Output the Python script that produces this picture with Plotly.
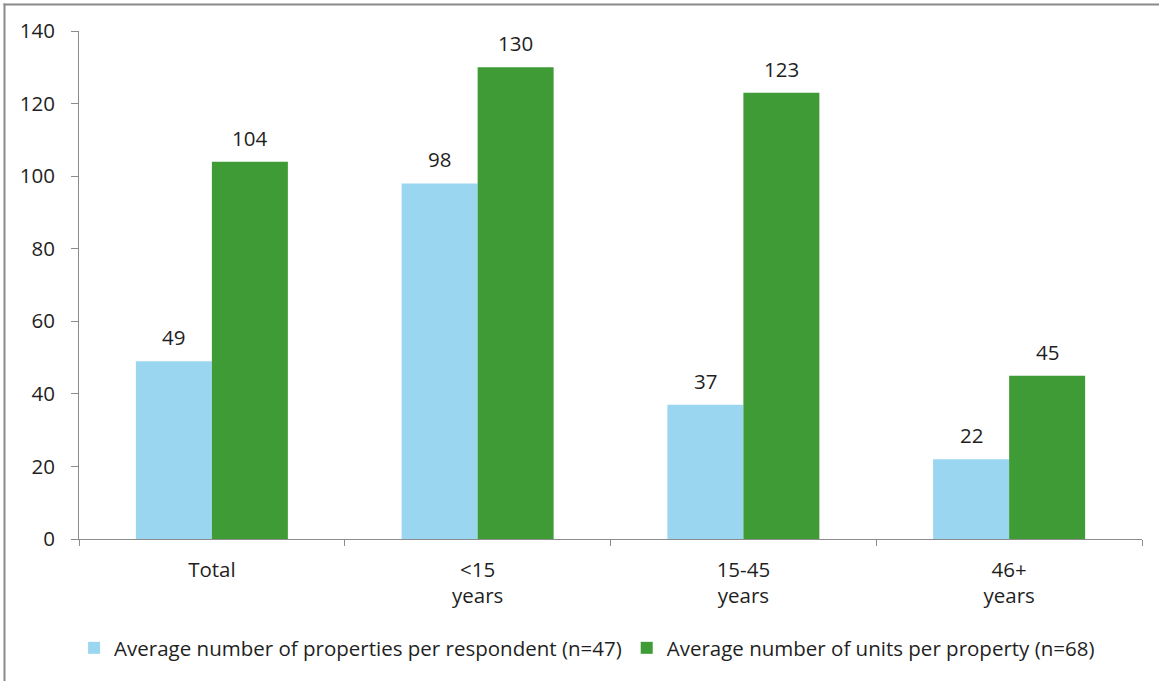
import plotly.graph_objects as go

# Age-of-portfolio groups on the x axis
categories = ["Total", "<15<br>years", "15-45<br>years", "46+<br>years"]

# Series values
properties_per_respondent = [49, 98, 37, 22]
units_per_property = [104, 130, 123, 45]

series_names = [
    "Average number of properties per respondent (n=47)",
    "Average number of units per property (n=68)",
]

y_ticks = [0, 20, 40, 60, 80, 100, 120, 140]

LIGHT_BLUE = "#9ad6f0"
GREEN = "#3f9b36"
TEXT = "#1f1f1f"
AXIS = "#8c8c8c"
FONT = "Open Sans, Noto Sans, sans-serif"
FS = 20.5

fig = go.Figure()
fig.add_trace(go.Bar(
    x=categories, y=properties_per_respondent, name=series_names[0],
    marker=dict(color=LIGHT_BLUE, line=dict(width=0)),
))
fig.add_trace(go.Bar(
    x=categories, y=units_per_property, name=series_names[1],
    marker=dict(color=GREEN, line=dict(width=0)),
))

# Value labels above each bar
BAR_HALF = 0.1429
for i, (a, b) in enumerate(zip(properties_per_respondent, units_per_property)):
    for dx, v in ((-BAR_HALF, a), (BAR_HALF, b)):
        fig.add_annotation(
            x=i + dx, y=v, xref="x", yref="y", text=str(v),
            showarrow=False, yanchor="bottom", yshift=8,
            font=dict(family=FONT, size=FS, color=TEXT),
        )

# Frame lines along the top and left edges of the page
L, T, PW, PH = 79, 539, 1063, 508
def px(p):
    return (p - L) / PW
def py(q):
    return (T - q) / PH

fig.add_shape(type="line", xref="paper", yref="paper",
              x0=px(3.5), x1=px(1159), y0=py(4.5), y1=py(4.5),
              line=dict(color="#8a8a8a", width=2))
fig.add_shape(type="line", xref="paper", yref="paper",
              x0=px(4.5), x1=px(4.5), y0=py(3.5), y1=py(681),
              line=dict(color="#8a8a8a", width=2))

fig.update_layout(
    width=1159, height=681,
    margin=dict(l=79, r=17, t=31, b=142),
    paper_bgcolor="white", plot_bgcolor="white",
    barmode="group", bargap=0.428, bargroupgap=0,
    font=dict(family=FONT, size=FS, color=TEXT),
    showlegend=True,
    legend=dict(
        orientation="h", x=0.478, xanchor="center",
        y=py(648), yanchor="middle",
        font=dict(family=FONT, size=FS, color=TEXT),
        itemwidth=30, tracegroupgap=0,
    ),
    xaxis=dict(
        showline=True, linecolor=AXIS, linewidth=1,
        ticks="outside", tickson="boundaries", ticklen=6, tickcolor=AXIS,
        showgrid=False, zeroline=False, ticklabelstandoff=12,
        tickfont=dict(family=FONT, size=FS, color=TEXT),
    ),
    yaxis=dict(
        range=[0, 140], tickvals=y_ticks,
        showline=True, linecolor=AXIS, linewidth=1,
        ticks="outside", ticklen=7, tickcolor=AXIS,
        showgrid=False, zeroline=False, ticklabelstandoff=12,
        tickfont=dict(family=FONT, size=FS, color=TEXT),
    ),
)

fig.write_html("out.html")
